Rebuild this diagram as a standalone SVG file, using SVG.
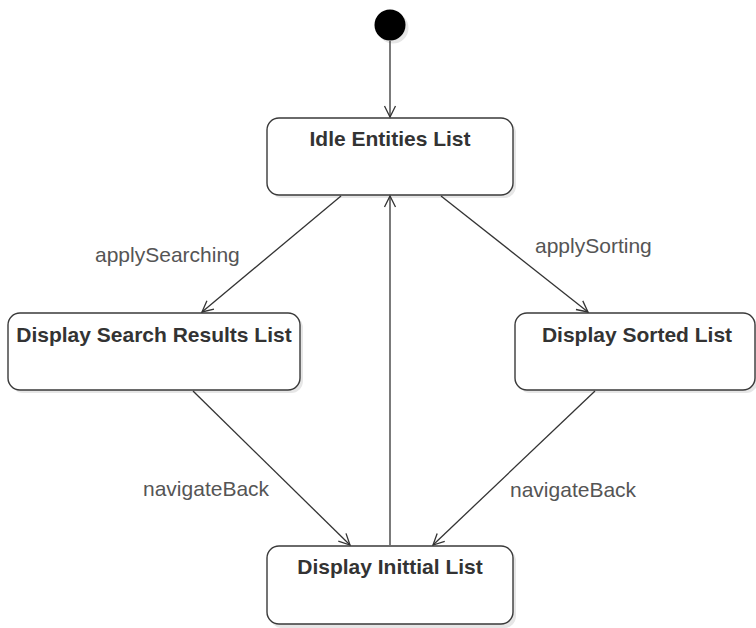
<svg xmlns="http://www.w3.org/2000/svg" width="756" height="628" viewBox="0 0 756 628">
<defs>
<marker id="open" markerUnits="userSpaceOnUse" markerWidth="16" markerHeight="16" refX="12" refY="6" orient="auto" overflow="visible">
<path d="M1,0.5 L12,6 L1,11.5" fill="none" stroke="#333" stroke-width="1.3"/>
</marker>
</defs>
<style>
.box{fill:#fff;stroke:#3a3a3a;stroke-width:1.4}
.shadow{fill:#e6e6e6}
.title{font-family:"Liberation Sans",Arial,sans-serif;font-size:21px;font-weight:bold;fill:#333;text-anchor:middle}
.lbl{font-family:"Liberation Sans",Arial,sans-serif;font-size:21px;fill:#555}
.edge{fill:none;stroke:#333;stroke-width:1.3;marker-end:url(#open)}
</style>
<rect width="756" height="628" fill="#fff"/>
<g id="start">
<circle cx="393" cy="28" r="15.5" fill="#e6e6e6"/>
<circle cx="390" cy="25" r="15.5" fill="#000"/>
</g>
<g id="idle">
<rect class="shadow" x="270" y="121" width="246" height="77" rx="12"/>
<rect class="box" x="267" y="118" width="246" height="77" rx="12"/>
<text class="title" x="390" y="146">Idle Entities List</text>
</g>
<g id="search">
<rect class="shadow" x="11" y="316" width="292" height="77" rx="12"/>
<rect class="box" x="8" y="313" width="292" height="77" rx="12"/>
<text class="title" x="154" y="342">Display Search Results List</text>
</g>
<g id="sorted">
<rect class="shadow" x="518" y="316" width="240" height="77" rx="12"/>
<rect class="box" x="515" y="313" width="240" height="77" rx="12"/>
<text class="title" x="637" y="342">Display Sorted List</text>
</g>
<g id="initial">
<rect class="shadow" x="270" y="549" width="246" height="79" rx="12"/>
<rect class="box" x="267" y="546" width="246" height="78" rx="12"/>
<text class="title" x="390" y="574">Display Inittial List</text>
</g>
<g id="connectors">
<line class="edge" x1="390" y1="41" x2="390" y2="117"/>
<line class="edge" x1="341" y1="196" x2="202" y2="312"/>
<line class="edge" x1="441" y1="196" x2="588" y2="312"/>
<line class="edge" x1="193" y1="391" x2="350" y2="545"/>
<line class="edge" x1="595" y1="391" x2="433" y2="545"/>
<line class="edge" x1="390" y1="545" x2="390" y2="196"/>
<text class="lbl" x="95" y="262">applySearching</text>
<text class="lbl" x="535" y="253">applySorting</text>
<text class="lbl" x="143" y="496">navigateBack</text>
<text class="lbl" x="510" y="497">navigateBack</text>
</g>
</svg>
